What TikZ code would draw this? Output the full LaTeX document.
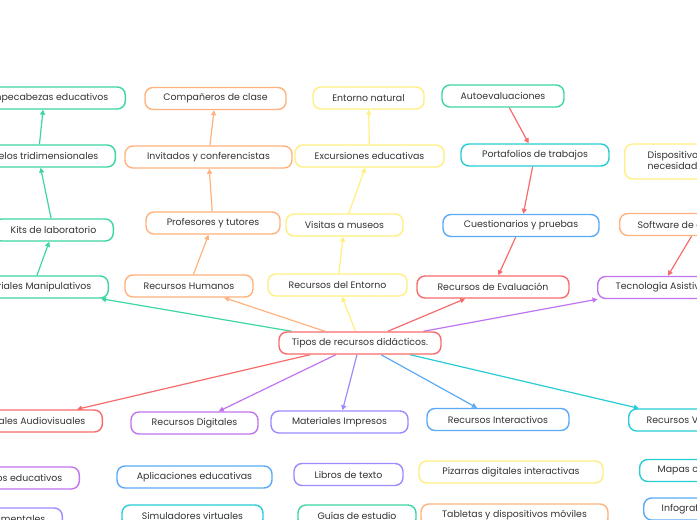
\documentclass[tikz,border=0pt]{standalone}
\usepackage{fontspec}
\setmainfont{Poppins}
\usetikzlibrary{arrows.meta,backgrounds}
\definecolor{cg}{HTML}{3CD6A0}
\definecolor{co}{HTML}{FFB27D}
\definecolor{cy}{HTML}{FFEF80}
\definecolor{cr}{HTML}{F86B6B}
\definecolor{cc}{HTML}{26CCD6}
\definecolor{cb}{HTML}{5AAAF5}
\definecolor{cp}{HTML}{C074EE}
\definecolor{cv}{HTML}{9A8CFF}
\definecolor{txt}{HTML}{333333}
\tikzset{
  box/.style={draw, rounded corners=8pt, line width=1.4pt, minimum height=22pt,
    inner ysep=0pt, inner xsep=0pt, fill=white, text=txt, font=\fontsize{9.4}{11}\selectfont},
  padl/.style={inner xsep=17pt, anchor=east},
  padr/.style={inner xsep=18pt, anchor=west},
  link/.style={line width=1.2pt, -{Triangle[length=5pt,width=5pt]}},
}
\begin{document}
\begin{tikzpicture}[x=1pt,y=-1pt]
\useasboundingbox (0,0) rectangle (697,520);
\clip (0,0) rectangle (697,520);
% central
\node[box, draw=cr, minimum width=162] (central) at (360,343) {Tipos de recursos didácticos.};
% green chain
\node[box, draw=cg, padl] (mm) at (109,287) {Materiales Manipulativos};
\node[box, draw=cg, padl] (kits) at (114,230) {Kits de laboratorio};
\node[box, draw=cg, padl] (modelos) at (116,156) {Modelos tridimensionales};
\node[box, draw=cg, padl] (rompe) at (126,98) {Rompecabezas educativos};
% orange chain
\node[box, draw=co, minimum width=128] (rh) at (189,286) {Recursos Humanos};
\node[box, draw=co, minimum width=134] (prof) at (213,223) {Profesores y tutores};
\node[box, draw=co, minimum width=167] (inv) at (208.5,157) {Invitados y conferencistas};
\node[box, draw=co, minimum width=141] (comp) at (215.5,98.5) {Compañeros de clase};
% yellow chain
\node[box, draw=cy, minimum width=139] (re) at (337.5,285) {Recursos del Entorno};
\node[box, draw=cy, minimum width=117] (vis) at (344.5,225) {Visitas a museos};
\node[box, draw=cy, minimum width=149] (exc) at (369.5,156) {Excursiones educativas};
\node[box, draw=cy, minimum width=111] (entn) at (368.5,98) {Entorno natural};
% evaluation chain
\node[box, draw=cr, minimum width=152] (rde) at (493,287) {Recursos de Evaluación};
\node[box, draw=cb, minimum width=156] (cues) at (521,225.5) {Cuestionarios y pruebas};
\node[box, draw=cc, minimum width=148] (port) at (535,155) {Portafolios de trabajos};
\node[box, draw=cg, minimum width=122] (auto) at (503,96) {Autoevaluaciones};
% assistive technology
\node[box, draw=cp, padr] (ta) at (597,287.5) {Tecnología Asistiva};
\node[box, draw=co, padr] (soft) at (619,224.5) {Software de accesibilidad};
\node[box, draw=cy, padr, inner xsep=23pt, minimum height=35pt, align=left] (disp) at (624,161.5) {Dispositivos para\\necesidades especiales};
% second row
\node[box, draw=cr, padl] (ma) at (103,421) {Materiales Audiovisuales};
\node[box, draw=cp, minimum width=127] (rd) at (194.5,423) {Recursos Digitales};
\node[box, draw=cv, minimum width=137] (mi) at (339.5,422) {Materiales Impresos};
\node[box, draw=cb, minimum width=142] (ri) at (498,419.5) {Recursos Interactivos};
\node[box, draw=cc, padr] (rv) at (628,420) {Recursos Visuales};
% third row
\node[box, draw=cp, padl] (vid) at (80,478) {Videos educativos};
\node[box, draw=cb, minimum width=155] (ae) at (194.5,477) {Aplicaciones educativas};
\node[box, draw=cv, minimum width=109] (lib) at (348.5,474.5) {Libros de texto};
\node[box, draw=cy, minimum width=184] (piz) at (511,472) {Pizarras digitales interactivas};
\node[box, draw=cc, padr] (mapas) at (639,470.5) {Mapas conceptuales};
% fourth row
\node[box, draw=cv, padl] (doc) at (63,519) {Documentales};
\node[box, draw=cc, minimum width=141] (sv) at (192.5,516) {Simuladores virtuales};
\node[box, draw=cg, minimum width=118] (guia) at (357,516) {Guías de estudio};
\node[box, draw=co, minimum width=187] (tab) at (514.5,515) {Tabletas y dispositivos móviles};
\node[box, draw=cb, padr] (info) at (643,509) {Infografías};
% connectors
\begin{scope}[on background layer]
\draw[link, cg] (central) -- (mm);
\draw[link, co] (central) -- (rh);
\draw[link, cy] (central) -- (re);
\draw[link, cr] (central) -- (rde);
\draw[link, cp] (central) -- (ta);
\draw[link, cr] (central) -- (ma);
\draw[link, cp] (central) -- (rd);
\draw[link, cv] (central) -- (mi);
\draw[link, cb] (central) -- (ri);
\draw[link, cc] (central) -- (rv);
\draw[link, cg] (mm) -- (kits);
\draw[link, cg] (kits) -- (modelos);
\draw[link, cg] (modelos) -- (rompe);
\draw[link, co] (rh) -- (prof);
\draw[link, co] (prof) -- (inv);
\draw[link, co] (inv) -- (comp);
\draw[link, cy] (re) -- (vis);
\draw[link, cy] (vis) -- (exc);
\draw[link, cy] (exc) -- (entn);
\draw[link, cr] (auto) -- (port);
\draw[link, cr] (port) -- (cues);
\draw[link, cr] (cues) -- (rde);
\draw[link, cr] (soft) -- (ta);
\end{scope}
\end{tikzpicture}
\end{document}
